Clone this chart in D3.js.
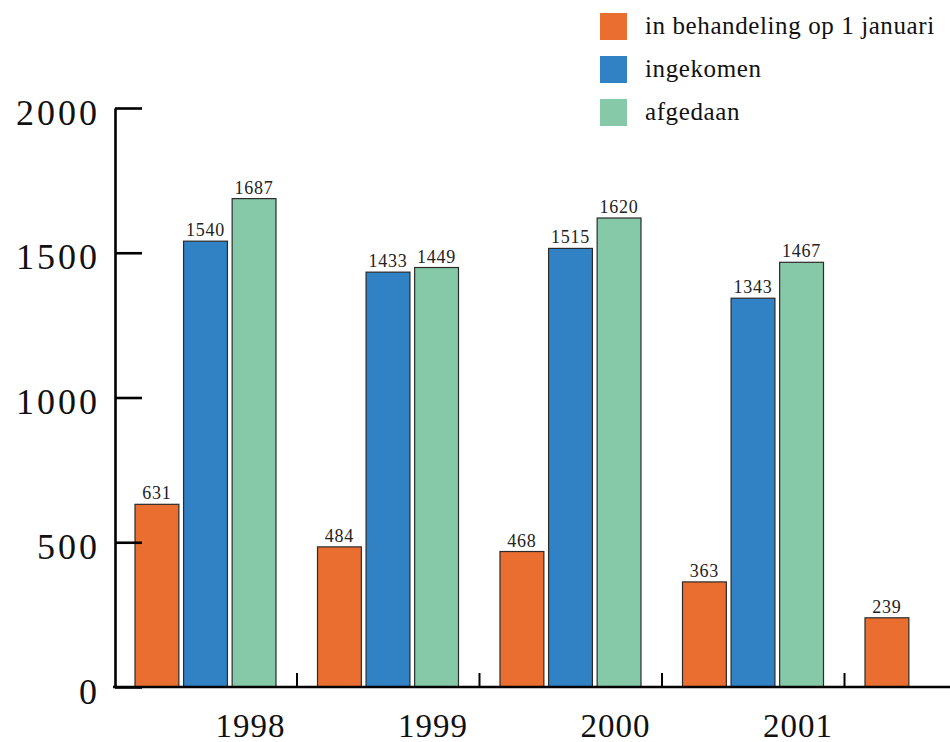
<!DOCTYPE html>
<html>
<head>
<meta charset="utf-8">
<script src="https://cdn.jsdelivr.net/npm/d3@7/dist/d3.min.js"></script>
<style>
  html, body { margin: 0; padding: 0; background: #fff; }
  svg { display: block; }
  svg text { font-family: "Liberation Serif", "DejaVu Serif", serif; }
</style>
</head>
<body>
<svg id="chart" width="950" height="742"></svg>
<script>
// Zaken per jaar
const years = ["1998", "1999", "2000", "2001", "2002"];
const yearLabels = ["1998", "1999", "2000", "2001"];
const seriesNames = ["in behandeling op 1 januari", "ingekomen", "afgedaan"];
const inBehandeling = [631, 484, 468, 363, 239];
const ingekomen = [1540, 1433, 1515, 1343, null];
const afgedaan = [1687, 1449, 1620, 1467, null];
const yTicks = [0, 500, 1000, 1500, 2000];
const colors = ["#E96E30", "#3181C5", "#86C9A8"];

const FONT = "Liberation Serif";
const seriesValues = [inBehandeling, ingekomen, afgedaan];
const rows = years.map((yr, i) => ({
  year: yr,
  values: seriesNames.map((s, k) => ({ key: s, k, value: seriesValues[k][i] }))
}));

const svg = d3.select("#chart");
const axisX = 115, groupStep = 182.5;

const y = d3.scaleLinear().domain([0, 2000]).range([687, 108]);
const x0 = d3.scaleBand().domain(years)
  .range([axisX - 0.5, axisX - 0.5 + groupStep * years.length]).padding(0);
const x1 = d3.scaleBand().domain(d3.range(3))
  .range([20.5, x0.bandwidth() - 21]).paddingInner(0.097).paddingOuter(0);

// Bars
const g = svg.append("g");
const groups = g.selectAll("g.grp").data(rows).join("g")
  .attr("class", "grp")
  .attr("transform", d => `translate(${x0(d.year)},0)`);

const cells = groups.selectAll("g.bar")
  .data(d => d.values.filter(v => v.value != null))
  .join("g").attr("class", "bar");

cells.append("rect")
  .attr("x", d => x1(d.k))
  .attr("width", x1.bandwidth())
  .attr("y", d => y(d.value))
  .attr("height", d => y(0) - y(d.value))
  .attr("fill", d => colors[d.k])
  .attr("stroke", "#2b2b2b")
  .attr("stroke-width", 1.2);

cells.append("text")
  .attr("x", d => x1(d.k) + x1.bandwidth() / 2)
  .attr("y", d => y(d.value) - 5)
  .attr("text-anchor", "middle")
  .attr("font-family", FONT)
  .attr("font-size", 18)
  .attr("letter-spacing", 0.8)
  .attr("fill", "#222")
  .text(d => d.value);

// Y axis: ticks point inward
const yAxis = d3.axisLeft(y).tickValues(yTicks).tickSizeInner(-27).tickSizeOuter(0).tickPadding(15)
  .tickFormat(d3.format("d"));
const yG = svg.append("g").attr("transform", `translate(${axisX},0)`).call(yAxis)
  .attr("font-family", FONT);
yG.select(".domain").attr("stroke", "#000").attr("stroke-width", 2.6);
yG.selectAll(".tick line").attr("stroke", "#000").attr("stroke-width", 2.6);
yG.selectAll(".tick text")
  .attr("font-family", FONT)
  .attr("font-size", 36)
  .attr("letter-spacing", 3)
  .attr("fill", "#111")
  .attr("dy", "0.45em");

// X axis baseline and group separators
svg.append("line")
  .attr("x1", axisX - 2).attr("x2", 950)
  .attr("y1", y(0)).attr("y2", y(0))
  .attr("stroke", "#000").attr("stroke-width", 2.6);

svg.selectAll("line.sep").data(years.slice(0, 4)).join("line")
  .attr("class", "sep")
  .attr("x1", d => x0(d) + x0.bandwidth()).attr("x2", d => x0(d) + x0.bandwidth())
  .attr("y1", y(0)).attr("y2", y(0) - 14)
  .attr("stroke", "#000").attr("stroke-width", 2);

svg.selectAll("text.year").data(yearLabels).join("text")
  .attr("class", "year")
  .attr("x", d => x0(d) + x0.bandwidth() * 0.745)
  .attr("y", 737)
  .attr("text-anchor", "middle")
  .attr("font-family", FONT)
  .attr("font-size", 33)
  .attr("letter-spacing", 1)
  .attr("fill", "#111")
  .text(d => d);

// Legend
const legend = svg.append("g").attr("transform", "translate(600,13)");
const li = legend.selectAll("g").data(seriesNames).join("g")
  .attr("transform", (d, i) => `translate(0,${i * 43})`);
li.append("rect").attr("width", 27).attr("height", 27).attr("fill", (d, i) => colors[i]);
li.append("text")
  .attr("x", 45).attr("y", 21)
  .attr("font-family", FONT)
  .attr("font-size", 25)
  .attr("letter-spacing", 0.6)
  .attr("fill", "#111")
  .text(d => d);
</script>
</body>
</html>
